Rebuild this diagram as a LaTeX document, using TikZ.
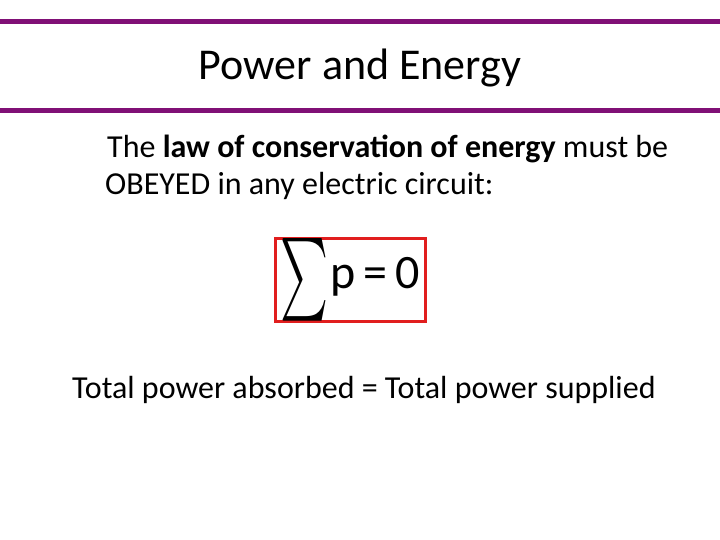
\documentclass[tikz,border=0pt]{standalone}
\usepackage{fontspec}
\setmainfont{Carlito}
\definecolor{bar}{RGB}{128,16,118}
\definecolor{boxred}{RGB}{225,30,30}
\begin{document}
\begin{tikzpicture}[x=1pt,y=-1pt,
  bartop/.style={line width=5pt,draw=bar},
  txt/.style={inner sep=0pt,anchor=west,font=\fontsize{32}{38}\selectfont}]
\useasboundingbox (0,0) rectangle (720,540);
\coordinate (l1) at (0,22); \coordinate (r1) at (720,22);
\coordinate (l2) at (0,111); \coordinate (r2) at (720,111);
\draw[bartop] (l1) -- (r1);
\draw[bartop] (l2) -- (r2);
\node[inner sep=0pt,font=\fontsize{44}{50}\selectfont] (title) at (360,68) {Power and Energy};
\node[txt] (line1) at (107,149) {The \textbf{law of conservation of energy} must be};
\node[txt] (line2) at (105,186) {OBEYED in any electric circuit:};
\node[draw=boxred,line width=3pt,minimum width=150pt,minimum height=80pt,inner sep=0pt] (eq) at (350,280)
  {\raisebox{-12pt}{\resizebox{48pt}{62pt}{$\sum$}}\,\fontsize{48}{52}\selectfont p\,=\,0};
\node[txt] (total) at (72,390) {Total power absorbed = Total power supplied};
\end{tikzpicture}
\end{document}
